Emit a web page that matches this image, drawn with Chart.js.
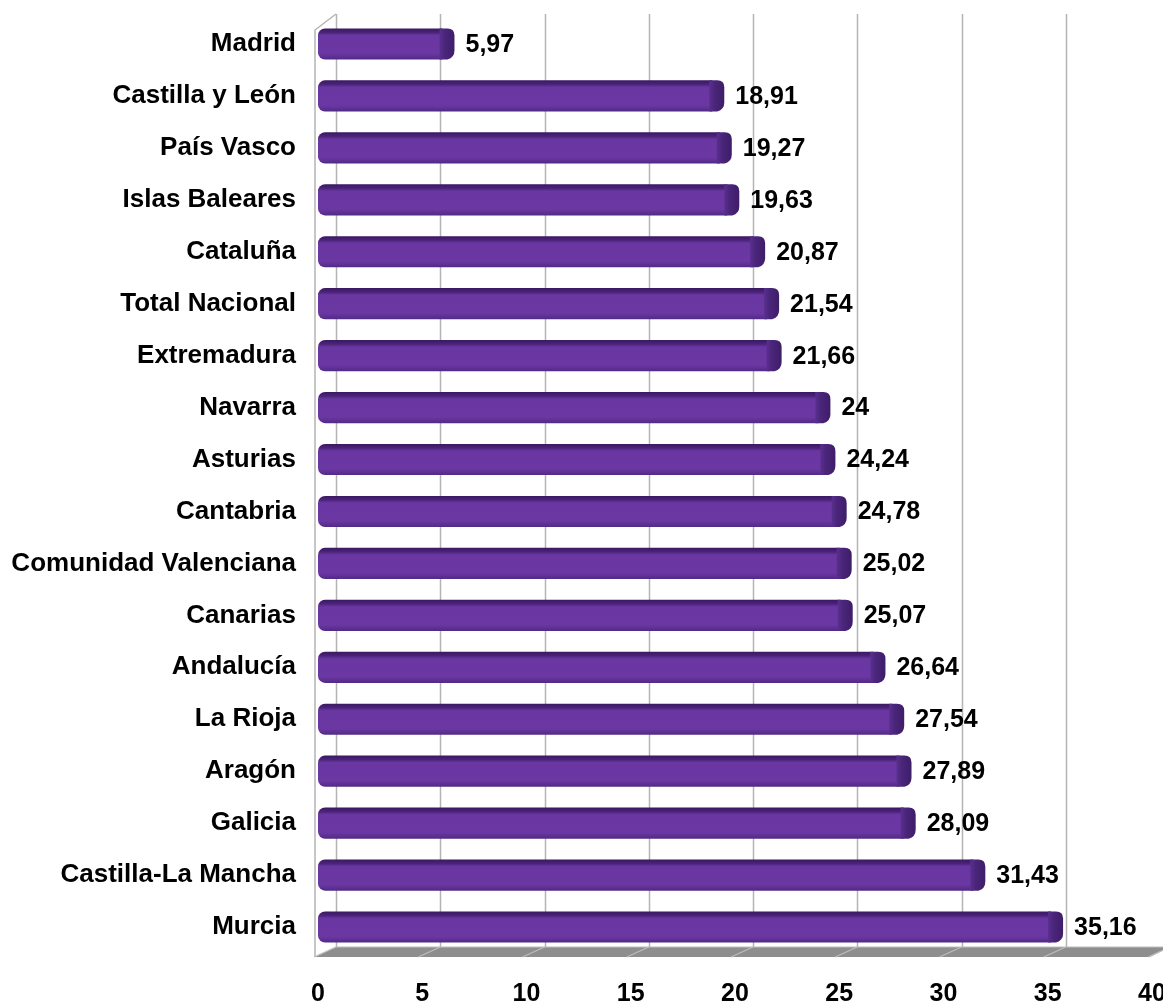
<!DOCTYPE html>
<html>
<head>
<meta charset="utf-8">
<script src="https://cdn.jsdelivr.net/npm/chart.js@4.4.1/dist/chart.umd.min.js"></script>
<style>
  html, body { margin: 0; padding: 0; background: #ffffff; }
  #wrap { width: 1163px; height: 1003px; position: relative; }
</style>
</head>
<body>
<div id="wrap"><canvas id="c"></canvas></div>
<script>
const categories = ["Madrid", "Castilla y León", "País Vasco", "Islas Baleares", "Cataluña", "Total Nacional", "Extremadura", "Navarra", "Asturias", "Cantabria", "Comunidad Valenciana", "Canarias", "Andalucía", "La Rioja", "Aragón", "Galicia", "Castilla-La Mancha", "Murcia"];
const values = [5.97, 18.91, 19.27, 19.63, 20.87, 21.54, 21.66, 24, 24.24, 24.78, 25.02, 25.07, 26.64, 27.54, 27.89, 28.09, 31.43, 35.16];
const xTicks = [0, 5, 10, 15, 20, 25, 30, 35, 40];

const FONT = '"Liberation Sans", Arial, sans-serif';
const DEPTH_X = 18;

function barGradient(ctx) {
  const chart = ctx.chart;
  const ys = chart.scales && chart.scales.y;
  if (!ys || !chart.chartArea) return '#6a38a2';
  const yc = ys.getPixelForValue(ctx.dataIndex);
  const h = 31;
  const g = chart.ctx.createLinearGradient(0, yc - h / 2, 0, yc + h / 2);
  g.addColorStop(0, '#3b1862');
  g.addColorStop(0.13, '#4a2479');
  g.addColorStop(0.22, '#6936a2');
  g.addColorStop(0.8, '#6b38a3');
  g.addColorStop(1, '#522a86');
  return g;
}

const backdrop = {
  id: 'backdrop',
  beforeDatasetsDraw(chart) {
    const c = chart.ctx;
    const xs = chart.scales.x;
    const area = chart.chartArea;
    const floorTop = area.bottom - 6;
    const floorBot = area.bottom + 4;
    const wallTop = 14;
    const x0f = xs.getPixelForValue(0) - 3;
    const x0b = xs.getPixelForValue(0) + DEPTH_X;
    c.save();
    c.strokeStyle = '#b4b4b4';
    c.lineWidth = 1.5;
    xTicks.forEach(v => {
      const px = Math.round(xs.getPixelForValue(v) + DEPTH_X) + 0.5;
      c.beginPath();
      c.moveTo(px, wallTop);
      c.lineTo(px, floorTop);
      c.stroke();
    });
    c.beginPath();
    c.moveTo(x0f, floorBot);
    c.lineTo(x0f, wallTop + 16);
    c.lineTo(x0b, wallTop);
    c.stroke();
    const xRb = xs.getPixelForValue(40) + DEPTH_X;
    const xRf = xs.getPixelForValue(40) - 2;
    c.beginPath();
    c.moveTo(x0b, floorTop);
    c.lineTo(xRb, floorTop);
    c.lineTo(xRf, floorBot);
    c.lineTo(x0f, floorBot);
    c.closePath();
    c.fillStyle = '#8e8e8e';
    c.fill();
    c.strokeStyle = '#bdbdbd';
    c.lineWidth = 1.2;
    c.beginPath();
    c.moveTo(x0b, floorTop);
    c.lineTo(xRb, floorTop);
    c.stroke();
    xTicks.forEach(v => {
      const pb = xs.getPixelForValue(v) + DEPTH_X;
      c.beginPath();
      c.moveTo(pb, floorTop);
      c.lineTo(pb - DEPTH_X - 4, floorBot);
      c.stroke();
    });
    c.restore();
  }
};

const caps = {
  id: 'caps',
  afterDatasetsDraw(chart) {
    const c = chart.ctx;
    const meta = chart.getDatasetMeta(0);
    c.save();
    meta.data.forEach((bar, i) => {
      const x = bar.x;
      const top = bar.y - bar.height / 2;
      const bot = bar.y + bar.height / 2;
      const w = 12;
      const r = 7;
      const g = c.createLinearGradient(x - 3, 0, x + w, 0);
      g.addColorStop(0, '#5a2f8f');
      g.addColorStop(0.35, '#4a267a');
      g.addColorStop(1, '#3e1d68');
      c.fillStyle = g;
      c.beginPath();
      c.moveTo(x - 3, top);
      c.lineTo(x + w - r, top);
      c.quadraticCurveTo(x + w, top, x + w, top + r);
      c.lineTo(x + w, bot - r - 2);
      c.quadraticCurveTo(x + w, bot - 2, x + w - r, bot);
      c.lineTo(x - 3, bot);
      c.closePath();
      c.fill();
      c.fillStyle = '#000000';
      c.font = 'bold 25px ' + FONT;
      c.textAlign = 'left';
      c.textBaseline = 'middle';
      c.fillText(String(values[i]).replace('.', ','), x + 23, bar.y + 1);
    });
    c.restore();
  }
};

new Chart(document.getElementById('c'), {
  type: 'bar',
  data: {
    labels: categories,
    datasets: [{
      data: values,
      backgroundColor: barGradient,
      borderWidth: 0,
      borderRadius: { topLeft: 7, bottomLeft: 7, topRight: 0, bottomRight: 0 },
      borderSkipped: false,
      barPercentage: 0.6,
      categoryPercentage: 1.0
    }]
  },
  options: {
    indexAxis: 'y',
    responsive: true,
    maintainAspectRatio: false,
    animation: false,
    layout: { padding: { top: 18, right: 11, left: 0, bottom: 0 } },
    plugins: { legend: { display: false }, tooltip: { enabled: false } },
    scales: {
      x: {
        min: 0, max: 40,
        afterBuildTicks(scale) { scale.ticks = xTicks.map(v => ({ value: v })); },
        afterFit(scale) {
          scale.height = 50;
          scale.paddingLeft = 0; scale.paddingRight = 0;
          scale.paddingTop = 0; scale.paddingBottom = 0;
        },
        grid: { display: false, drawTicks: false },
        border: { display: false },
        ticks: {
          padding: 26,
          color: '#000000',
          font: { family: FONT, size: 25, weight: 'bold' },
          callback: v => String(v)
        }
      },
      y: {
        afterFit(scale) {
          scale.width = 318;
          scale.paddingLeft = 0; scale.paddingRight = 0;
          scale.paddingTop = 0; scale.paddingBottom = 0;
        },
        grid: { display: false, drawTicks: false },
        border: { display: false },
        ticks: {
          padding: 22,
          color: '#000000',
          font: { family: FONT, size: 26, weight: 'bold' }
        }
      }
    }
  },
  plugins: [backdrop, caps]
});
</script>
</body>
</html>
